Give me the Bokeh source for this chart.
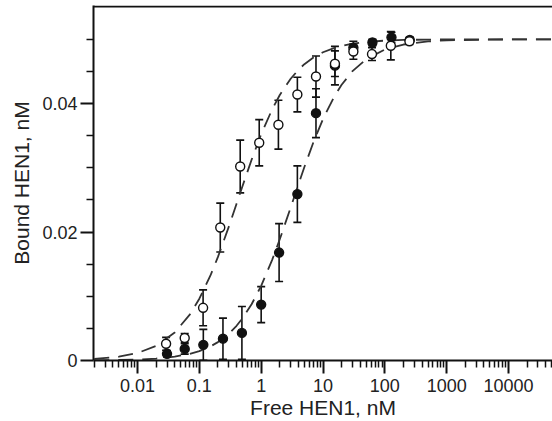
from bokeh.plotting import figure
from bokeh.models import (ColumnDataSource, Whisker, TeeHead, FixedTicker,
                          CustomJSTickFormatter, Span, Range1d)
from bokeh.embed import file_html
from bokeh.resources import INLINE

# ---- data ----
open_x = [0.029, 0.058, 0.115, 0.218, 0.458, 0.93, 1.9, 3.85, 7.7, 15.6, 31, 62, 125, 250]
open_y = [0.0026, 0.0035, 0.0082, 0.0207, 0.0302, 0.0339, 0.0367, 0.0414, 0.0442,
          0.0462, 0.0481, 0.0477, 0.0490, 0.0497]
open_err = [0.0010, 0.0007, 0.0028, 0.0038, 0.0041, 0.0036, 0.0038, 0.0027, 0.0032,
            0.0020, 0.0012, 0.0010, 0.0022, 0.0005]

filled_x = [0.030, 0.058, 0.116, 0.241, 0.488, 1.0, 1.95, 3.85, 7.7, 15.6, 31, 63, 128, 253]
filled_y = [0.00104, 0.0018, 0.00244, 0.0034, 0.0043, 0.0087, 0.0168, 0.0259, 0.0385,
            0.0459, 0.0487, 0.0495, 0.0503, 0.0499]
filled_err = [0.0005, 0.0008, 0.0024, 0.0032, 0.0041, 0.0028, 0.0045, 0.0044, 0.0038,
              0.0030, 0.0010, 0.0005, 0.0008, 0.0004]

# fitted curves
curve_x = [0.002, 0.005, 0.01, 0.02, 0.04, 0.07, 0.1, 0.15, 0.2, 0.3, 0.4, 0.5, 0.7,
           1, 1.5, 2, 3, 4, 5, 7, 10, 15, 20, 30, 50, 100, 200, 500, 1000, 10000, 60000]
curve_open = [0.000237, 0.000588, 0.001163, 0.002273, 0.004348, 0.007143, 0.009615,
              0.013158, 0.016129, 0.020833, 0.02439, 0.027174, 0.03125, 0.035211,
              0.039063, 0.041322, 0.04386, 0.045249, 0.046125, 0.04717, 0.047985,
              0.048638, 0.048972, 0.04931, 0.049583, 0.049791, 0.049895, 0.04996,
              0.04998, 0.049998, 0.05]
curve_filled = [0.0000303, 0.0000756, 0.000151, 0.000301, 0.000599, 0.001039, 0.001471,
                0.002174, 0.002857, 0.004167, 0.005405, 0.006579, 0.00875, 0.011628,
                0.015625, 0.018868, 0.02381, 0.027397, 0.03012, 0.033981, 0.037594,
                0.040984, 0.042918, 0.045045, 0.046904, 0.048403, 0.049188, 0.049672,
                0.049836, 0.049984, 0.049997]

x_major = [0.01, 0.1, 1, 10, 100, 1000, 10000]
x_labels = ["0.01", "0.1", "1", "10", "100", "1000", "10000"]
y_major = [0, 0.02, 0.04]
y_minor = [0.005, 0.01, 0.015, 0.025, 0.03, 0.035, 0.045, 0.05]

FONT = "Liberation Sans"
TXT = "#222222"

p = figure(width=552, height=421, x_axis_type="log",
           x_range=Range1d(0.001942, 51480), y_range=Range1d(0, 0.05526),
           output_backend="svg", toolbar_location=None,
           min_border_left=93, min_border_right=0, min_border_top=5,
           min_border_bottom=61)
p.outline_line_color = None
p.grid.visible = False
p.background_fill_color = "white"
p.border_fill_color = "white"

# curves
p.line(curve_x, curve_open, line_color="#333333", line_width=1.8, line_dash="15 9")
p.line(curve_x, curve_filled, line_color="#333333", line_width=1.8, line_dash="15 9")

def add_series(xs, ys, errs, fill):
    src = ColumnDataSource(dict(x=xs, y=ys,
                                lo=[a - b for a, b in zip(ys, errs)],
                                hi=[a + b for a, b in zip(ys, errs)]))
    w = Whisker(source=src, base="x", lower="lo", upper="hi", dimension="height",
                line_color="#111111", line_width=1.6,
                upper_head=TeeHead(size=8, line_width=1.6, line_color="#111111"),
                lower_head=TeeHead(size=8, line_width=1.6, line_color="#111111"))
    p.add_layout(w)
    p.scatter("x", "y", source=src, size=9, marker="circle", fill_color=fill,
              line_color="#111111", line_width=1.4)

add_series(filled_x, filled_y, filled_err, "#111111")
add_series(open_x, open_y, open_err, "white")

# top frame line
p.add_layout(Span(location=0.0551, dimension="width", line_color="#111111", line_width=2))

minor_x = []
d = 0.001
while d < 100000:
    minor_x += [k * d for k in range(2, 10)]
    d *= 10

xa = p.xaxis[0]
xa.ticker = FixedTicker(ticks=x_major, minor_ticks=minor_x)
xa.formatter = CustomJSTickFormatter(args=dict(t=x_major, l=x_labels), code="""
    for (let i = 0; i < t.length; i++) { if (Math.abs(Math.log10(tick) - Math.log10(t[i])) < 1e-6) return l[i]; }
    return '';
""")
xa.axis_label = "Free HEN1, nM"

ya = p.yaxis[0]
ya.ticker = FixedTicker(ticks=y_major, minor_ticks=y_minor)
ya.formatter = CustomJSTickFormatter(code="return tick === 0 ? '0' : tick.toFixed(2);")
ya.axis_label = "Bound HEN1, nM"

for ax in (xa, ya):
    ax.axis_line_width = 2
    ax.axis_line_color = "#111111"
    ax.major_tick_line_color = "#111111"
    ax.minor_tick_line_color = "#111111"
    ax.major_tick_line_width = 2
    ax.minor_tick_line_width = 1.5
    ax.major_tick_in = 0
    ax.major_tick_out = 13
    ax.minor_tick_in = 0
    ax.minor_tick_out = 7
    ax.major_label_text_font = FONT
    ax.major_label_text_font_size = "18px"
    ax.major_label_text_color = TXT
    ax.axis_label_text_font = FONT
    ax.axis_label_text_font_size = "21px"
    ax.axis_label_text_font_style = "normal"
    ax.axis_label_text_color = TXT

xa.major_label_standoff = 5
xa.axis_label_standoff = 1
ya.major_label_standoff = 3
ya.axis_label_standoff = 6

open("out.html", "w").write(file_html(p, INLINE))
